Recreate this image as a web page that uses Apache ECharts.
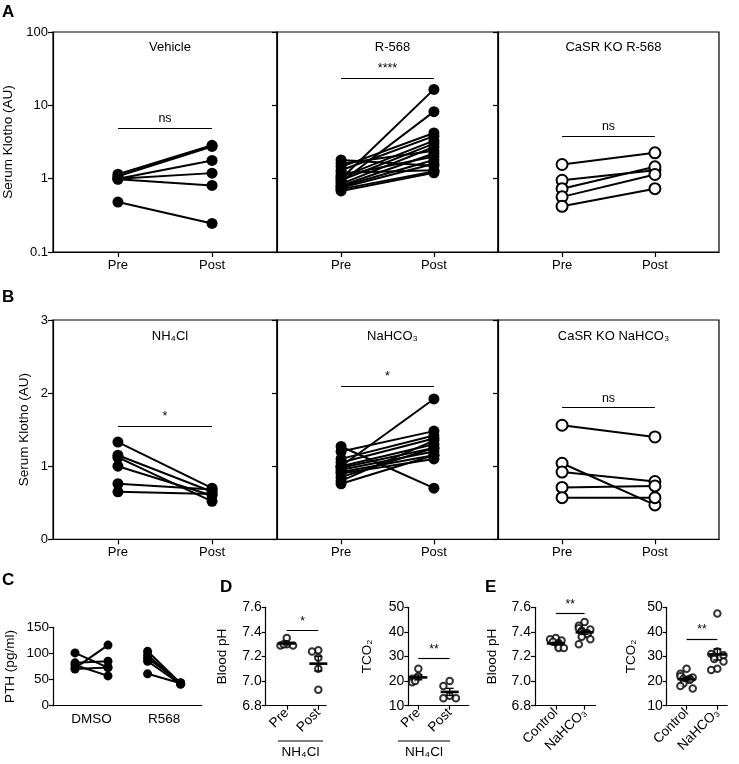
<!DOCTYPE html>
<html><head><meta charset="utf-8">
<script src="https://cdn.jsdelivr.net/npm/echarts@6/dist/echarts.min.js"></script>
<style>html,body{margin:0;padding:0;background:#fff}#c{width:739px;height:764px}</style>
</head><body><div id="c"></div>
<script>
// ---------- DATA ----------
const prePost = ['Pre', 'Post'];
// Panel A (log scale, Serum Klotho AU)
const vehiclePre  = [1.15, 1.08, 1.0, 1.0, 0.98, 0.48];
const vehiclePost = [2.85, 2.75, 1.77, 1.19, 0.81, 0.245];
const r568Pre  = [1.0, 0.9, 1.8, 1.6, 1.45, 1.3, 1.2, 1.1, 1.05, 0.95, 0.85, 0.8, 0.78, 0.75, 0.72, 0.68];
const r568Post = [16.5, 8.2, 1.5, 2.4, 4.2, 3.8, 1.3, 2.0, 3.3, 3.0, 2.7, 2.2, 1.8, 1.6, 1.25, 1.2];
const koR568Pre  = [1.56, 0.95, 0.73, 0.565, 0.42];
const koR568Post = [2.25, 1.3, 1.45, 1.14, 0.73];
const aTitles = ['Vehicle', 'R-568', 'CaSR KO R-568'];
const aSigText = ['ns', '****', 'ns'];
const aSigY = [4.9, 23.5, 3.8];
const aTicks = [0.1, 1, 10, 100];
// Panel B (linear, Serum Klotho AU)
const nh4clPre  = [1.33, 1.15, 1.12, 1.0, 0.76, 0.65];
const nh4clPost = [0.70, 0.65, 0.52, 0.60, 0.68, 0.62];
const nahco3Pre  = [1.0, 1.27, 1.2, 1.1, 1.05, 1.0, 0.98, 0.95, 0.92, 0.9, 0.85, 0.8, 0.76];
const nahco3Post = [1.92, 0.70, 1.48, 1.42, 1.38, 1.3, 1.25, 1.2, 1.15, 1.1, 1.25, 1.35, 1.15];
const koNahco3Pre  = [1.56, 1.04, 0.92, 0.71, 0.57];
const koNahco3Post = [1.40, 0.47, 0.79, 0.73, 0.57];
const bTitles = ['NH₄Cl', 'NaHCO₃', 'CaSR KO NaHCO₃'];
const bSigText = ['*', '*', 'ns'];
const bSigY = [1.545, 2.1, 1.80];
// Panel C (PTH pg/ml)
const cGroups = ['DMSO', 'R568'];
const dmsoPre  = [101, 82, 78, 72, 70];
const dmsoPost = [73, 85, 57, 116, 73];
const r568cPre  = [104, 97, 91, 85, 61];
const r568cPost = [43, 42, 44, 41, 43];
const cSigText = ['n.s.', '***'];
const cSigY = 153;
// Panel D (NH4Cl)
const dCats = ['Pre', 'Post'];
const dPhPre   = [7.35, 7.30, 7.29, 7.29, 7.30];
const dPhPost  = [7.25, 7.24, 7.19, 7.10, 6.93];
const dTco2Pre  = [25, 22, 21, 19.5, 20];
const dTco2Post = [20, 18, 14, 13, 13];
const dSig = [['*', 7.41], ['**', 29.3]];
// Panel E (NaHCO3)
const eCats = ['Control', 'NaHCO₃'];
const ePhControl = [7.35, 7.34, 7.33, 7.32, 7.31, 7.30, 7.29, 7.28, 7.27, 7.27];
const ePhNahco3  = [7.48, 7.45, 7.43, 7.42, 7.41, 7.40, 7.39, 7.38, 7.36, 7.34, 7.30];
const eTco2Control = [25, 23, 22, 21.5, 21, 21, 20.5, 19, 18, 17];
const eTco2Nahco3  = [47.5, 32, 31, 30.5, 30, 29, 28, 25, 24.5];
const eSig = [['**', 7.55], ['**', 37.1]];

// ---------- BUILD ----------
const FONT = '"Liberation Sans", Arial, Helvetica, sans-serif';
const grid = [], xAxis = [], yAxis = [], series = [], title = [], graphic = [];
const BLACK = '#000';

function addGrid(g, boxed) {
  grid.push(Object.assign({ containLabel: false, show: !!boxed, borderColor: BLACK, borderWidth: 1.2, backgroundColor: 'transparent' }, g));
  return grid.length - 1;
}
function pairSeries(gi, xs, pre, post, hollow, size, lw) {
  pre.forEach((p, i) => series.push({
    type: 'line', xAxisIndex: gi, yAxisIndex: gi, data: [[xs[0], p], [xs[1], post[i]]],
    symbol: hollow ? 'emptyCircle' : 'circle', symbolSize: size, showSymbol: true,
    lineStyle: { color: BLACK, width: lw }, itemStyle: { color: BLACK, borderColor: BLACK, borderWidth: hollow ? 1.5 : 0 },
    emphasis: { disabled: true }, silent: true, animation: false, z: 3
  }));
}
function sigLine(gi, x0, x1, y, text, fs) {
  series.push({
    type: 'line', xAxisIndex: gi, yAxisIndex: gi, data: [], clip: false, silent: true, animation: false,
    markLine: {
      silent: true, animation: false, symbol: ['none', 'none'],
      lineStyle: { color: BLACK, width: 1.2, type: 'solid' },
      label: { show: true, position: 'insideMiddleTop', formatter: text, color: BLACK, fontSize: fs || 12, fontFamily: FONT, distance: 3 },
      emphasis: { disabled: true },
      data: [[{ coord: [x0, y] }, { coord: [x1, y] }]]
    }
  });
}
function meanSem(arr) {
  const n = arr.length, m = arr.reduce((a, b) => a + b, 0) / n;
  const sd = Math.sqrt(arr.reduce((a, b) => a + (b - m) * (b - m), 0) / (n - 1));
  return [m, sd / Math.sqrt(n)];
}
const JIT = [0, -0.2, 0.2, -0.1, 0.1, 0.28, -0.28, 0.05, -0.05];
function jittered(arr, x, thr) {
  const out = [];
  arr.forEach((v, i) => {
    let k = 0;
    for (let j = 0; j < i; j++) if (Math.abs(arr[j] - v) < thr) k++;
    out.push([x + JIT[k % JIT.length], v]);
  });
  return out;
}
function dotPlot(gi, groups, thr) {
  groups.forEach((arr, gx) => {
    series.push({ type: 'scatter', xAxisIndex: gi, yAxisIndex: gi, data: jittered(arr, gx, thr),
      symbol: 'emptyCircle', symbolSize: 6.5, itemStyle: { color: BLACK, borderColor: BLACK, borderWidth: 1.1 },
      silent: true, animation: false, z: 3 });
  });
  series.push({
    type: 'custom', xAxisIndex: gi, yAxisIndex: gi, silent: true, animation: false, z: 5,
    data: groups.map((arr, gx) => [gx].concat(meanSem(arr))),
    renderItem: (params, api) => {
      const x = api.value(0), m = api.value(1), s = api.value(2);
      const c = api.coord([x, m]), hi = api.coord([x, m + s]), lo = api.coord([x, m - s]);
      const st = { stroke: BLACK, lineWidth: 1.4 };
      return { type: 'group', children: [
        { type: 'line', shape: { x1: c[0] - 9, y1: c[1], x2: c[0] + 9, y2: c[1] }, style: { stroke: BLACK, lineWidth: 2.6 } },
        { type: 'line', shape: { x1: c[0], y1: hi[1], x2: c[0], y2: lo[1] }, style: st },
        { type: 'line', shape: { x1: c[0] - 4, y1: hi[1], x2: c[0] + 4, y2: hi[1] }, style: st },
        { type: 'line', shape: { x1: c[0] - 4, y1: lo[1], x2: c[0] + 4, y2: lo[1] }, style: st }
      ] };
    }
  });
}
const xLine = { onZero: false, lineStyle: { color: BLACK, width: 1.2 } };
const yLine = { show: true, onZero: false, lineStyle: { color: BLACK, width: 1.2 } };
const tickStyle = { lineStyle: { color: BLACK, width: 1.2 } };

// ----- Panels A & B -----
const subLeft = [53, 277, 498], subWidth = [224, 221, 221];
function prePostX(gi) {
  xAxis.push({ gridIndex: gi, type: 'value', min: -0.69, max: 1.69,
    axisLine: xLine, splitLine: { show: false },
    axisTick: Object.assign({ show: true, customValues: [0, 1], length: 5, inside: false }, tickStyle),
    axisLabel: { customValues: [0, 1], formatter: v => prePost[Math.round(v)], color: BLACK, fontSize: 13, fontFamily: FONT, margin: 7 } });
}
const aData = [[vehiclePre, vehiclePost, false], [r568Pre, r568Post, false], [koR568Pre, koR568Post, true]];
const bData = [[nh4clPre, nh4clPost, false], [nahco3Pre, nahco3Post, false], [koNahco3Pre, koNahco3Post, true]];
[0, 1, 2].forEach(k => {
  // A
  let gi = addGrid({ left: subLeft[k], width: subWidth[k], top: 32, height: 220 }, true);
  prePostX(gi);
  yAxis.push({ gridIndex: gi, type: 'log', logBase: 10, min: aTicks[0], max: aTicks[aTicks.length - 1],
    axisLine: yLine, splitLine: { show: false }, minorTick: { show: false },
    axisTick: Object.assign({ show: true, length: 5 }, tickStyle),
    axisLabel: { show: k === 0, color: BLACK, fontSize: 13, fontFamily: FONT, margin: 5, formatter: v => String(+(+v).toPrecision(3)) },
    name: k === 0 ? 'Serum Klotho (AU)' : '', nameLocation: 'middle', nameGap: 38,
    nameTextStyle: { color: BLACK, fontSize: 13.5, fontFamily: FONT } });
  pairSeries(gi, [0, 1], aData[k][0], aData[k][1], aData[k][2], 11, 2);
  sigLine(gi, 0, 1, aSigY[k], aSigText[k], 12.5);
  title.push({ text: aTitles[k], left: subLeft[k] + subWidth[k] / 2, top: 36, textAlign: 'center',
    textStyle: { color: BLACK, fontSize: 13, fontWeight: 'normal', fontFamily: FONT } });
  // B
  gi = addGrid({ left: subLeft[k], width: subWidth[k], top: 320, height: 219.3 }, true);
  prePostX(gi);
  yAxis.push({ gridIndex: gi, type: 'value', min: 0, max: 3, interval: 1,
    axisLine: yLine, splitLine: { show: false },
    axisTick: Object.assign({ show: true, length: 5 }, tickStyle),
    axisLabel: { show: k === 0, color: BLACK, fontSize: 13, fontFamily: FONT, margin: 5 },
    name: k === 0 ? 'Serum Klotho (AU)' : '', nameLocation: 'middle', nameGap: 22,
    nameTextStyle: { color: BLACK, fontSize: 13.5, fontFamily: FONT } });
  pairSeries(gi, [0, 1], bData[k][0], bData[k][1], bData[k][2], 11, 2);
  sigLine(gi, 0, 1, bSigY[k], bSigText[k], 12.5);
  title.push({ text: bTitles[k], left: subLeft[k] + subWidth[k] / 2, top: 325, textAlign: 'center',
    textStyle: { color: BLACK, fontSize: 13, fontWeight: 'normal', fontFamily: FONT } });
});

// ----- Panel C -----
{
  const gi = addGrid({ left: 53, width: 148.7, top: 627.3, height: 78.4 }, false);
  const cPos = [[0, 1], [2.2, 3.2]];
  xAxis.push({ gridIndex: gi, type: 'value', min: -0.667, max: 3.84, axisLine: xLine, splitLine: { show: false },
    axisTick: { show: false },
    axisLabel: { customValues: [0.5, 2.7], formatter: v => cGroups[v < 1.5 ? 0 : 1], color: BLACK, fontSize: 13.5, fontFamily: FONT, margin: 7 } });
  yAxis.push({ gridIndex: gi, type: 'value', min: 0, max: 150, interval: 50, axisLine: yLine,
    splitLine: { show: false }, axisTick: Object.assign({ show: true, length: 4 }, tickStyle),
    axisLabel: { color: BLACK, fontSize: 13.5, fontFamily: FONT, margin: 4 },
    name: 'PTH (pg/ml)', nameLocation: 'middle', nameGap: 36, nameTextStyle: { color: BLACK, fontSize: 13.5, fontFamily: FONT } });
  pairSeries(gi, cPos[0], dmsoPre, dmsoPost, false, 9, 2);
  pairSeries(gi, cPos[1], r568cPre, r568cPost, false, 9, 2);
  sigLine(gi, cPos[0][0], cPos[0][1], cSigY, cSigText[0], 13);
  sigLine(gi, cPos[1][0], cPos[1][1], cSigY, cSigText[1], 13);
}

// ----- Panels D & E -----
function dotPanel(left, xmin, xmax, cats, ymin, ymax, yint, yname, nameGap, groups, sig, fmt) {
  const gi = addGrid({ left: left, width: 60.5, top: 607.3, height: 98.4 }, false);
  xAxis.push({ gridIndex: gi, type: 'value', min: xmin, max: xmax, axisLine: xLine, splitLine: { show: false },
    axisTick: Object.assign({ show: true, customValues: [0, 1], length: 4 }, tickStyle),
    axisLabel: { customValues: [0, 1], rotate: 45, formatter: v => cats[Math.round(v)], color: BLACK, fontSize: 13.5, fontFamily: FONT, margin: 5 } });
  yAxis.push({ gridIndex: gi, type: 'value', min: ymin, max: ymax, interval: yint,
    axisLine: yLine, splitLine: { show: false },
    axisTick: Object.assign({ show: true, length: 4 }, tickStyle),
    axisLabel: { color: BLACK, fontSize: 14, fontFamily: FONT, margin: 4, formatter: fmt },
    name: yname, nameLocation: 'middle', nameGap: nameGap, nameTextStyle: { color: BLACK, fontSize: 13.5, fontFamily: FONT } });
  dotPlot(gi, groups, (ymax - ymin) * 0.06);
  sigLine(gi, 0, 1, sig[1], sig[0], 12);
}
const f1 = v => v.toFixed(1);
dotPanel(265.7, -0.667, 1.25, dCats, 6.8, 7.6, 0.2, 'Blood pH', 36, [dPhPre, dPhPost], dSig[0], f1);
dotPanel(408.3, -0.32, 1.61, dCats, 10, 50, 10, 'TCO₂', 34, [dTco2Pre, dTco2Post], dSig[1]);
dotPanel(535, -0.724, 1.38, eCats, 6.8, 7.6, 0.2, 'Blood pH', 36, [ePhControl, ePhNahco3], eSig[0], f1);
dotPanel(666.7, -0.645, 1.32, eCats, 10, 50, 10, 'TCO₂', 28, [eTco2Control, eTco2Nahco3], eSig[1]);

// NH4Cl group brackets under panel D
[[278, 323], [398, 450]].forEach(([x0, x1]) => {
  graphic.push({ type: 'line', shape: { x1: x0, y1: 741, x2: x1, y2: 741 }, style: { stroke: BLACK, lineWidth: 1.2 }, silent: true });
  graphic.push({ type: 'text', x: (x0 + x1) / 2, y: 745, style: { text: 'NH₄Cl', fill: BLACK, font: '13.5px ' + FONT, textAlign: 'center', textVerticalAlign: 'top' }, silent: true });
});

// Panel letters
[['A', 2, 4], ['B', 2, 289], ['C', 2, 572], ['D', 220, 579], ['E', 485, 579]].forEach(([t, x, y]) =>
  title.push({ text: t, left: x, top: y, padding: 0, textStyle: { color: BLACK, fontSize: 17, fontWeight: 'bold', fontFamily: FONT } }));

const chart = echarts.init(document.getElementById('c'), null, { renderer: 'canvas' });
chart.setOption({ animation: false, backgroundColor: '#fff', title, grid, xAxis, yAxis, series, graphic,
  textStyle: { fontFamily: FONT } });
</script></body></html>
